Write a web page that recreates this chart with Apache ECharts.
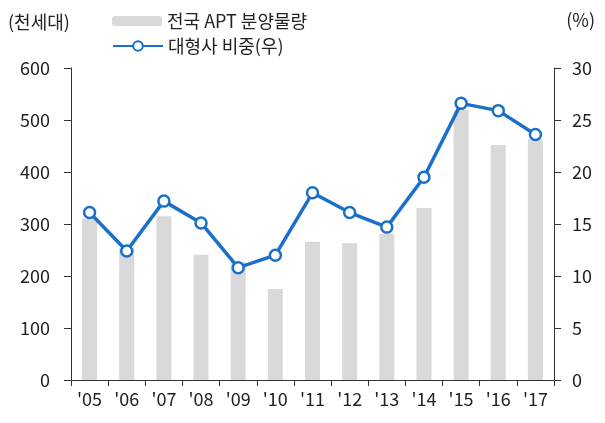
<!DOCTYPE html>
<html><head><meta charset="utf-8">
<script src="https://cdn.jsdelivr.net/npm/echarts@6/dist/echarts.min.js"></script>
<style>html,body{margin:0;padding:0;background:#fff}#c{width:605px;height:423px}</style>
</head><body><div id="c"></div>
<script>
const categories = ["'05","'06","'07","'08","'09","'10","'11","'12","'13","'14","'15","'16","'17"];
const supply = [310, 254, 315, 241, 227, 175, 266, 263, 281, 331, 519, 452, 463];
const share = [16.1, 12.4, 17.2, 15.1, 10.8, 12.0, 18.0, 16.1, 14.7, 19.5, 26.6, 25.9, 23.6];
const barName = '전국 APT 분양물량';
const lineName = '대형사 비중(우)';
const leftUnit = '(천세대)';
const rightUnit = '(%)';
const FONT = "'Noto Sans CJK KR', 'Noto Sans', sans-serif";
const TXT = '#222';
const chart = echarts.init(document.getElementById('c'));
chart.setOption({
  animation: false,
  textStyle: {fontFamily: FONT},
  grid: {left: 71, right: 51, top: 68, bottom: 43, containLabel: false},
  legend: [
    {data: [barName], left: 107, top: 7, itemWidth: 50, itemHeight: 10,
     textStyle: {fontSize: 18, color: TXT, fontFamily: FONT}},
    {data: [lineName], left: 107, top: 32, itemWidth: 50, itemHeight: 12,
     textStyle: {fontSize: 18, color: TXT, fontFamily: FONT}}
  ],
  graphic: [
    {type: 'text', left: 8, top: 13, style: {text: leftUnit, fontSize: 18, fill: TXT, fontFamily: FONT}},
    {type: 'text', right: 10, top: 11, style: {text: rightUnit, fontSize: 18, fill: TXT, fontFamily: FONT}}
  ],
  xAxis: {
    type: 'category', data: categories,
    axisLine: {lineStyle: {color: '#333', width: 1}},
    axisTick: {show: true, alignWithLabel: false, length: 6, lineStyle: {color: '#333'}},
    axisLabel: {fontSize: 18, color: TXT, margin: 10, fontFamily: FONT}
  },
  yAxis: [
    {type: 'value', min: 0, max: 600, interval: 100,
     axisLine: {show: true, lineStyle: {color: '#333'}},
     axisTick: {show: true, length: 7, lineStyle: {color: '#333'}},
     splitLine: {show: false},
     axisLabel: {fontSize: 18, color: TXT, margin: 21, fontFamily: FONT}},
    {type: 'value', min: 0, max: 30, interval: 5,
     axisLine: {show: true, lineStyle: {color: '#333'}},
     axisTick: {show: true, length: 7, lineStyle: {color: '#333'}},
     splitLine: {show: false},
     axisLabel: {fontSize: 18, color: TXT, margin: 18, fontFamily: FONT}}
  ],
  series: [
    {name: barName, type: 'bar', data: supply, barWidth: 15,
     itemStyle: {color: '#d9d9d9'}},
    {name: lineName, type: 'line', yAxisIndex: 1, data: share,
     symbol: 'circle', symbolSize: 11,
     lineStyle: {color: '#1a70c8', width: 3.5},
     itemStyle: {color: '#fff', borderColor: '#1a70c8', borderWidth: 2.5}}
  ]
});
</script></body></html>
